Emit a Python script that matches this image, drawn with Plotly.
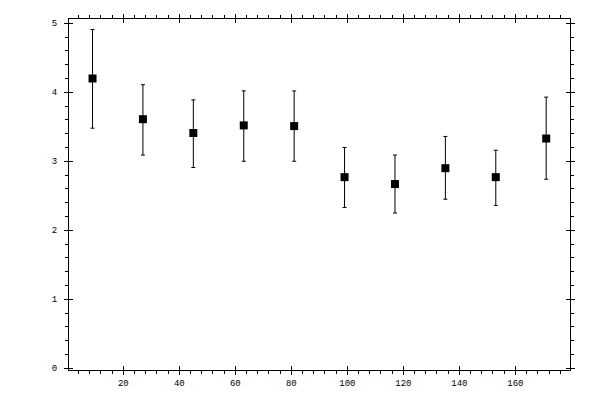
import plotly.graph_objects as go

# values
x = [9, 27, 45, 63, 81, 99, 117, 135, 153, 171]
y = [4.20, 3.61, 3.41, 3.52, 3.51, 2.77, 2.67, 2.90, 2.77, 3.33]
y_hi = [4.91, 4.11, 3.89, 4.02, 4.02, 3.20, 3.09, 3.36, 3.16, 3.93]
y_lo = [3.48, 3.09, 2.91, 3.00, 3.00, 2.33, 2.25, 2.45, 2.36, 2.74]

err_plus = [h - v for h, v in zip(y_hi, y)]
err_minus = [v - l for v, l in zip(y, y_lo)]

xrange_ = [0.6, 179.5]
yrange_ = [-0.025, 5.062]
xticks = [20, 40, 60, 80, 100, 120, 140, 160]
font = dict(family="Liberation Mono", size=9, color="black")

fig = go.Figure()
fig.add_scatter(x=x, y=y, mode="markers",
                marker=dict(symbol="square", size=8, color="black"),
                error_y=dict(type="data", array=err_plus, arrayminus=err_minus,
                             color="black", thickness=1, width=2),
                showlegend=False, hoverinfo="skip")
# invisible copy so the overlay axes (inner half of major ticks) get drawn
fig.add_scatter(x=x, y=y, mode="markers", xaxis="x2", yaxis="y2",
                marker=dict(opacity=0), showlegend=False, hoverinfo="skip")

axis_common = dict(showgrid=False, zeroline=False, showline=True, linecolor="black",
                   linewidth=1, ticks="outside", ticklen=4, tickwidth=1,
                   tickcolor="black", mirror="ticks", tickfont=font, automargin=False)

# page body adds 8px, so margins are shifted to keep the plot box in place
fig.update_layout(
    width=600, height=400,
    margin=dict(l=61, r=38, t=11, b=38, autoexpand=False),
    paper_bgcolor="white", plot_bgcolor="white",
    xaxis=dict(range=xrange_, tickvals=xticks,
               minor=dict(ticks="outside", dtick=4, tick0=0, ticklen=3, tickcolor="black"),
               **axis_common),
    yaxis=dict(range=yrange_, tick0=0, dtick=1, ticklabelstandoff=5,
               minor=dict(ticks="outside", dtick=0.2, tick0=0, ticklen=3, tickcolor="black"),
               **axis_common),
    xaxis2=dict(range=xrange_, overlaying="x", matches="x", anchor="y2", side="bottom",
                showgrid=False, zeroline=False, showline=False, showticklabels=False,
                ticks="inside", ticklen=4, tickcolor="black", mirror="ticks",
                tickvals=xticks, automargin=False),
    yaxis2=dict(range=yrange_, overlaying="y", matches="y", anchor="x2", side="left",
                showgrid=False, zeroline=False, showline=False, showticklabels=False,
                ticks="inside", ticklen=4, tickcolor="black", mirror="ticks",
                tick0=0, dtick=1, automargin=False),
)

fig.write_html("out.html")
